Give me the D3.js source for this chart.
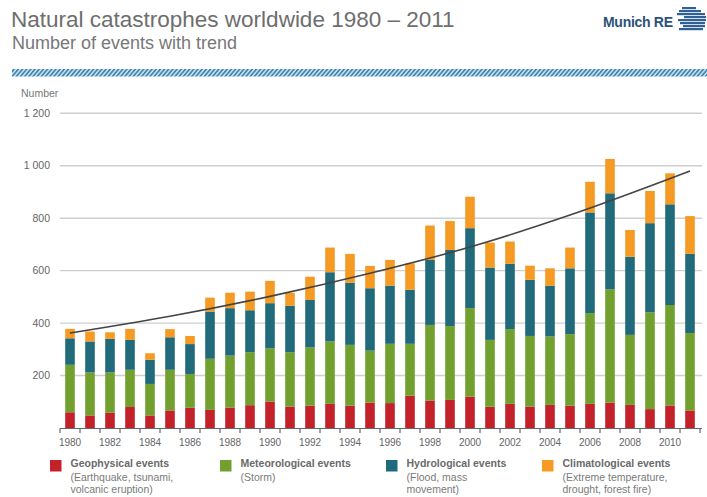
<!DOCTYPE html>
<html><head><meta charset="utf-8">
<script src="https://cdn.jsdelivr.net/npm/d3@7"></script>
<style>
html,body{margin:0;padding:0;background:#fff;}
svg{display:block;font-family:"Liberation Sans",Arial,Helvetica,sans-serif;}
</style></head>
<body>
<svg id="chart" width="707" height="497"></svg>
<script>
const years = d3.range(1980, 2012);
const geophysical   = [60,48,58,80,48,67,77,69,78,87,101,82,85,92,85,97,95,123,105,107,120,81,92,82,88,85,92,97,88,72,86,67];
const meteorological= [181,164,154,142,120,155,129,195,198,202,203,207,222,238,232,198,226,198,288,282,337,255,285,269,261,273,346,432,267,369,383,295];
const hydrological  = [101,118,128,114,92,124,114,180,181,160,172,177,181,264,237,238,222,206,248,290,305,276,249,214,193,251,384,366,298,340,384,302];
const climatological= [36,38,25,42,25,31,31,53,59,71,85,50,89,94,110,85,98,101,131,110,120,95,85,54,67,79,117,131,102,123,118,144];
const trendYears  = [1980,1985,1990,1995,2000,2005,2011];
const trendValues = [362,426,502,590,690,812,980];
const yTicks = [200,400,600,800,1000,1200];
const yTickLabels = ["200","400","600","800","1 000","1 200"];
const xLabelYears = d3.range(1980, 2012, 2);
const seriesKeys = ["geo","met","hyd","cli"];
const seriesNames = ["Geophysical events","Meteorological events","Hydrological events","Climatological events"];
const seriesNotes = [["(Earthquake, tsunami,","volcanic eruption)"],["(Storm)"],["(Flood, mass","movement)"],["(Extreme temperature,","drought, forest fire)"]];
const colors = ["#c3222b","#72a02e","#216a7b","#f59a23"];

const svg = d3.select("#chart");
const table = years.map((y,i)=>({year:y, geo:geophysical[i], met:meteorological[i], hyd:hydrological[i], cli:climatological[i]}));

// header
svg.append("text").attr("x",11).attr("y",27).attr("font-size",22.5).attr("fill","#6e6e6e")
  .text("Natural catastrophes worldwide 1980 – 2011");
svg.append("text").attr("x",12).attr("y",49).attr("font-size",18).attr("fill","#777")
  .text("Number of events with trend");
svg.append("text").attr("x",603).attr("y",27).attr("font-size",14).attr("font-weight","bold")
  .attr("fill","#2c5279").attr("textLength",70).text("Munich RE");
// logo icon (stylised stripes)
const logo = svg.append("g").attr("fill","#2f6196");
[[682,7,14],[679,10,22],[677,13,28],[684,16,22],[678,19,28],[680,22,25],[683,25,22],[679,28,24]].forEach(d=>{
  logo.append("rect").attr("x",d[0]).attr("y",d[1]).attr("width",d[2]).attr("height",2.2);
});

// hatched stripe
const defs = svg.append("defs");
const pat = defs.append("pattern").attr("id","hatch").attr("patternUnits","userSpaceOnUse")
  .attr("width",3.2).attr("height",3.2).attr("patternTransform","rotate(40)");
pat.append("rect").attr("width",3.2).attr("height",3.2).attr("fill","#d7e8f1");
pat.append("rect").attr("width",1.8).attr("height",3.2).attr("fill","#3f88b3");
svg.append("rect").attr("x",12).attr("y",69).attr("width",695).attr("height",7.5).attr("fill","url(#hatch)");

// scales
const x = d3.scaleBand().domain(years).range([60,700]).paddingInner(0.52).paddingOuter(0.26);
const y = d3.scaleLinear().domain([0,1200]).range([428,113.3]);

svg.append("text").attr("x",21).attr("y",97).attr("font-size",10.5).attr("fill","#777").text("Number");

// grid
svg.append("g").selectAll("line").data(yTicks).join("line")
  .attr("x1",60).attr("x2",702).attr("y1",d=>y(d)).attr("y2",d=>y(d))
  .attr("stroke","#cfcfcf").attr("stroke-width",1.4);
svg.append("g").selectAll("text").data(yTicks).join("text")
  .attr("x",50).attr("y",d=>y(d)).attr("dy","0.35em").attr("text-anchor","end")
  .attr("font-size",10.5).attr("fill","#666").text((d,i)=>yTickLabels[i]);

// bars
const stack = d3.stack().keys(seriesKeys)(table);
svg.append("g").selectAll("g").data(stack).join("g").attr("fill",(d,i)=>colors[i])
  .selectAll("rect").data(d=>d).join("rect")
  .attr("x",d=>x(d.data.year)).attr("width",x.bandwidth())
  .attr("y",d=>y(d[1])).attr("height",d=>y(d[0])-y(d[1]));

// x axis
const axisG = svg.append("g");
axisG.append("line").attr("x1",60).attr("x2",702).attr("y1",428.5).attr("y2",428.5).attr("stroke","#666").attr("stroke-width",1.2);
const boundaries = d3.range(0, years.length+1).map(i=>60 + i*x.step());
axisG.selectAll("line.tk").data(boundaries).join("line").attr("class","tk")
  .attr("x1",d=>d).attr("x2",d=>d).attr("y1",428.5).attr("y2",433)
  .attr("stroke","#666").attr("stroke-width",1.2);
axisG.selectAll("text").data(xLabelYears).join("text")
  .attr("x",d=>x(d)+x.bandwidth()/2).attr("y",446).attr("text-anchor","middle")
  .attr("font-size",10).attr("fill","#666").text(d=>d);

// trend
const line = d3.line().x(d=>x(d[0])+x.bandwidth()/2).y(d=>y(d[1])).curve(d3.curveMonotoneX);
svg.append("path").datum(trendYears.map((t,i)=>[t,trendValues[i]]))
  .attr("d",line).attr("fill","none").attr("stroke","#444").attr("stroke-width",1.6);

// legend
const legX = [50,220,386,542];
seriesNames.forEach((n,i)=>{
  const g = svg.append("g");
  g.append("rect").attr("x",legX[i]).attr("y",460).attr("width",11.5).attr("height",11.5).attr("fill",colors[i]);
  g.append("text").attr("x",legX[i]+20.5).attr("y",467).attr("font-size",10.5).attr("font-weight","bold").attr("fill","#6a6a6a").text(n);
  seriesNotes[i].forEach((t,j)=>{
    g.append("text").attr("x",legX[i]+20.5).attr("y",480.5+j*12.8).attr("font-size",10.5).attr("fill","#7a7a7a").text(t);
  });
});
</script>
</body></html>
